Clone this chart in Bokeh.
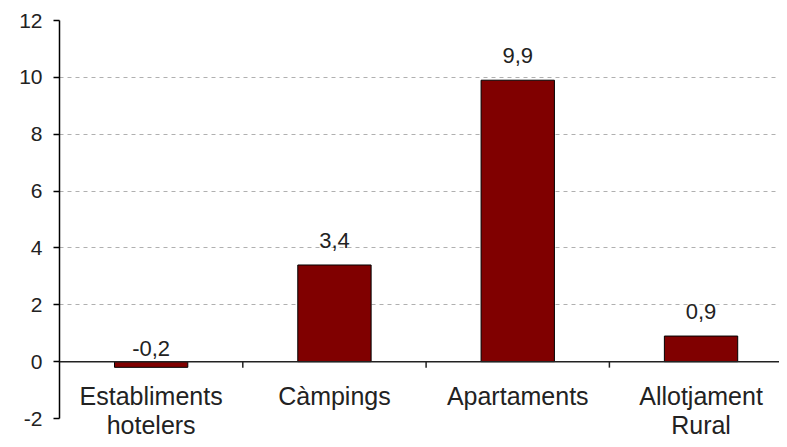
from bokeh.plotting import figure
from bokeh.models import Range1d, FixedTicker, Span, LabelSet, ColumnDataSource
from bokeh.core.properties import value
from bokeh.embed import file_html
from bokeh.resources import INLINE

# ---- data ----
categories = ["Establiments\nhotelers", "Càmpings", "Apartaments", "Allotjament\nRural"]
values = [-0.2, 3.4, 9.9, 0.9]
y_ticks = [-2, 0, 2, 4, 6, 8, 10, 12]

FONT = "Liberation Sans"
TXT = "#222222"
BAR = "#800000"

# ---- layout (pixels) ----
W, H = 779, 439
LEFT, TOP = 59, 20
AXIS_PX = 398            # pixel height of the labelled axis span (-2 .. 12)
CAT_PX = 183.3           # pixel width of one category

idx = list(range(len(categories)))
labels = [f"{v:.1f}".replace(".", ",") for v in values]
line1 = [c.split("\n")[0] for c in categories]
line2 = [c.split("\n")[1] if "\n" in c else "" for c in categories]

px_per_unit = AXIS_PX / (y_ticks[-1] - y_ticks[0])
frame_h = H - TOP
y_lo = y_ticks[-1] - frame_h / px_per_unit
x_hi = -0.5 + (W - LEFT) / CAT_PX

p = figure(width=W, height=H, output_backend="svg", toolbar_location=None,
           x_range=Range1d(-0.5, x_hi), y_range=Range1d(y_lo, y_ticks[-1]),
           x_axis_location=None, min_border_left=LEFT, min_border_top=TOP,
           min_border_bottom=0, min_border_right=0)
p.outline_line_color = None
p.background_fill_color = "white"
p.border_fill_color = "white"
p.xgrid.grid_line_color = None

# y axis
ya = p.yaxis[0]
ya.ticker = FixedTicker(ticks=y_ticks)
ya.major_label_overrides = {t: str(t) for t in y_ticks}
ya.bounds = (y_ticks[0], y_ticks[-1])
ya.axis_line_color = "black"
ya.axis_line_width = 1.5
ya.major_tick_line_color = "black"
ya.major_tick_line_width = 1.5
ya.major_tick_in = 0
ya.major_tick_out = 6
ya.minor_tick_line_color = None
ya.major_label_text_font = FONT
ya.major_label_text_font_size = "21px"
ya.major_label_text_color = TXT
ya.major_label_standoff = 11

# grid
p.ygrid.ticker = FixedTicker(ticks=[t for t in y_ticks if 0 < t < y_ticks[-1]])
p.ygrid.grid_line_color = "#b0b0b0"
p.ygrid.grid_line_dash = "4 4"
p.ygrid.grid_line_width = 1

# bars
p.vbar(x=idx, top=values, bottom=0, width=0.4, fill_color=BAR,
       line_color="black", line_width=1)

# zero line
p.add_layout(Span(location=0, dimension="width", line_color="#222222", line_width=1.5))

# category boundary ticks hanging under the zero line
bounds = [i + 0.5 for i in idx[:-1]]
tick_len = 6 / px_per_unit
p.segment(x0=bounds, y0=[0] * len(bounds), x1=bounds, y1=[-tick_len] * len(bounds),
          line_color="#222222", line_width=1.5)

# category labels (two lines)
for txt, off in ((line1, -43), (line2, -72)):
    src = ColumnDataSource(dict(x=idx, y=[0] * len(idx), text=txt))
    p.add_layout(LabelSet(x="x", y="y", text="text", source=src, y_offset=off,
                          text_align="center", text_baseline="alphabetic",
                          text_font=value(FONT), text_font_size="25px",
                          text_color=TXT))

# value labels
pos = [i for i, v in enumerate(values) if v >= 0]
neg = [i for i, v in enumerate(values) if v < 0]
pos_src = ColumnDataSource(dict(x=[idx[i] for i in pos], y=[values[i] for i in pos],
                                text=[labels[i] for i in pos]))
neg_src = ColumnDataSource(dict(x=[idx[i] for i in neg], y=[0] * len(neg),
                                text=[labels[i] for i in neg]))
for src, off in ((pos_src, 17), (neg_src, 6)):
    p.add_layout(LabelSet(x="x", y="y", text="text", source=src, y_offset=off,
                          text_align="center", text_baseline="alphabetic",
                          text_font=value(FONT), text_font_size="22px",
                          text_color=TXT))

open("out.html", "w").write(file_html(p, INLINE))
